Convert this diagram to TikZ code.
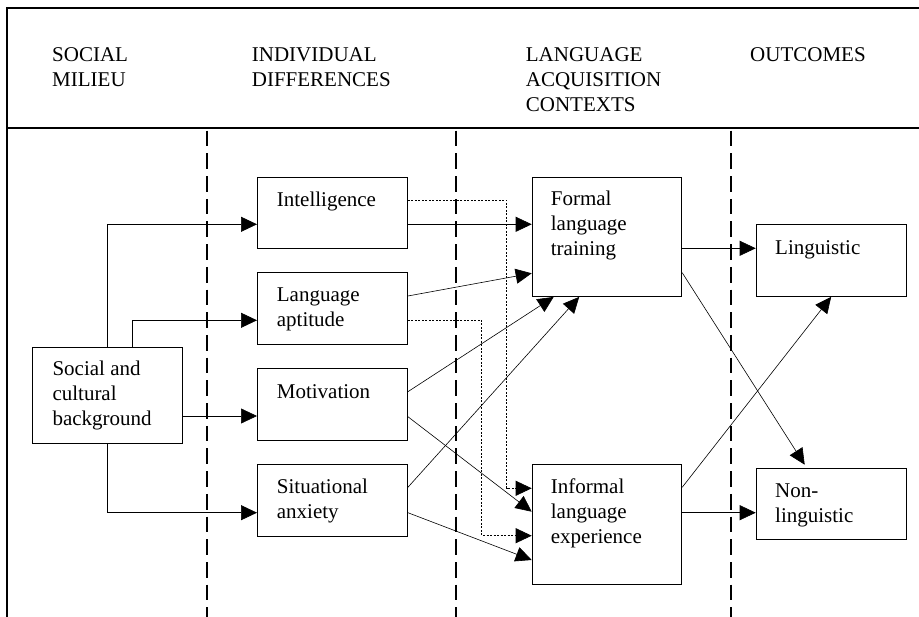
\documentclass[tikz,border=0pt]{standalone}
\usepackage{fontspec}
\setmainfont{Liberation Serif}
\usetikzlibrary{arrows.meta}

% left-aligned lines whose baseline is that of the first line
\newcommand\txtrows[1]{\vtop{\halign{##\hfil\cr#1\crcr}}}

\tikzset{
  frame/.style={line width=1.6pt},
  divider/.style={line width=1.8pt, dash pattern=on 15.7pt off 7pt, dash phase=20pt},
  box/.style={draw, line width=0.9pt, minimum width=150pt, minimum height=71.7pt,
              inner sep=0pt, anchor=north west},
  txt/.style={anchor=base west, inner sep=0pt, font=\fontsize{21}{24.8}\selectfont},
  link/.style={line width=0.6pt, -{Triangle[length=16pt,width=15pt]}},
  dotlink/.style={link, line width=0.7pt, dash pattern=on 2pt off 1.5pt},
}

\begin{document}
\begin{tikzpicture}[x=1pt, y=-1pt]
\useasboundingbox (0,0) rectangle (919,617);

% frame and column dividers
\draw[frame] (919,8) -- (7,8) -- (7,617);
\draw[frame] (7,128) -- (919,128);
\draw[divider] (207,128) -- (207,617);
\draw[divider] (456.3,128) -- (456.3,617);
\draw[divider] (730.7,128) -- (730.7,617);

% column headings
\node[txt] (h-social) at (52,61.7) {\txtrows{SOCIAL\cr MILIEU}};
\node[txt] (h-indiv) at (251.7,61.7) {\txtrows{INDIVIDUAL\cr DIFFERENCES}};
\node[txt] (h-context) at (525.7,61.7) {\txtrows{LANGUAGE\cr ACQUISITION\cr CONTEXTS}};
\node[txt] (h-out) at (750,61.7) {OUTCOMES};

% boxes
\node[box, minimum height=96pt] (soc) at (32.3,347.3) {};
\node[box, minimum height=71.3pt] (intel) at (257,176.7) {};
\node[box] (apt) at (257,272.3) {};
\node[box] (mot) at (257,368.3) {};
\node[box] (anx) at (257,464.3) {};
\node[box, minimum width=149.6pt, minimum height=119.3pt] (formal) at (531.7,176.7) {};
\node[box, minimum width=149.6pt, minimum height=119.7pt] (informal) at (531.7,464.3) {};
\node[box] (ling) at (755.7,224.3) {};
\node[box, minimum height=71.6pt] (nonling) at (755.7,467.7) {};

% box texts
\node[txt] (soc-t) at (52.3,376) {\txtrows{Social and\cr cultural\cr background}};
\node[txt] (intel-t) at (276.7,206.7) {Intelligence};
\node[txt] (apt-t) at (276.7,301.7) {\txtrows{Language\cr aptitude}};
\node[txt] (mot-t) at (276.7,398.3) {Motivation};
\node[txt] (anx-t) at (276.7,494) {\txtrows{Situational\cr anxiety}};
\node[txt] (formal-t) at (550.7,205.7) {\txtrows{Formal\cr language\cr training}};
\node[txt] (informal-t) at (550.7,494) {\txtrows{Informal\cr language\cr experience}};
\node[txt] (ling-t) at (775,254.3) {Linguistic};
\node[txt] (nonling-t) at (775,497.3) {\txtrows{Non-\cr linguistic}};

% social milieu to individual differences
\coordinate (intel-in) at ([yshift=-47.6pt]intel.north west);
\draw[link] (soc.north) |- (intel-in);
\coordinate (apt-in) at ([yshift=-48pt]apt.north west);
\draw[link] ([xshift=100.4pt]soc.north west) |- (apt-in);
\coordinate (mot-in) at ([yshift=-47.7pt]mot.north west);
\draw[link] (soc.east |- mot-in) -- (mot-in);
\coordinate (anx-in) at ([yshift=-48.4pt]anx.north west);
\draw[link] (soc.south) |- (anx-in);

% intelligence
\coordinate (formal-a) at ([yshift=-47.6pt]formal.north west);
\draw[link] (intel.east |- formal-a) -- (formal-a);
\coordinate (informal-a) at ([yshift=-24pt]informal.north west);
\draw[dotlink] ([yshift=-23.6pt]intel.north east) -| ([xshift=-25pt]informal-a) -- (informal-a);

% language aptitude
\draw[link] ([yshift=-23.7pt]apt.north east) -- ([yshift=-96.6pt]formal.north west);
\coordinate (informal-c) at ([yshift=-71.4pt]informal.north west);
\draw[dotlink] ([yshift=-48pt]apt.north east) -| ([xshift=-50pt]informal-c) -- (informal-c);

% motivation
\draw[link] ([yshift=-23.4pt]mot.north east) -- ([xshift=22pt]formal.south west);
\draw[link] ([yshift=-48.4pt]mot.north east) -- ([yshift=-47.4pt]informal.north west);

% situational anxiety
\draw[link] ([yshift=-23pt]anx.north east) -- ([xshift=47.5pt]formal.south west);
\draw[link] ([yshift=-48.4pt]anx.north east) -- ([yshift=-95.7pt]informal.north west);

% contexts to outcomes
\coordinate (ling-in) at ([yshift=-24pt]ling.north west);
\draw[link] (formal.east |- ling-in) -- (ling-in);
\draw[link] ([yshift=-96pt]formal.north east) -- ([xshift=49pt,yshift=3pt]nonling.north west);
\draw[link] ([yshift=-23pt]informal.north east) -- (ling.south);
\coordinate (nonling-in) at ([yshift=-45pt]nonling.north west);
\draw[link] (informal.east |- nonling-in) -- (nonling-in);
\end{tikzpicture}
\end{document}
